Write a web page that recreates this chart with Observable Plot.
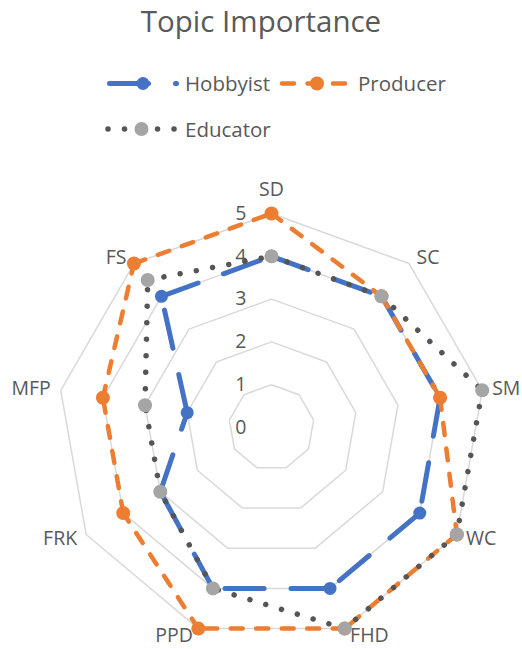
<!DOCTYPE html>
<html>
<head>
<meta charset="utf-8">
<script src="https://cdn.jsdelivr.net/npm/d3@7"></script>
<script src="https://cdn.jsdelivr.net/npm/@observablehq/plot@0.6"></script>
<style>
  body { margin: 0; background: #fff; font-family: "Open Sans", sans-serif; color: #595959; }
  #page { position: relative; width: 522px; height: 649px; overflow: hidden; }
  #header { position: absolute; left: 0; top: 0; }
  #chart { position: absolute; left: 0; top: 150px; }
</style>
</head>
<body>
<div id="page">
  <svg id="header" width="522" height="150"></svg>
  <div id="chart"></div>
</div>
<script>
// Survey topics around the radar, clockwise from the top
const topics = ["SD", "SC", "SM", "WC", "FHD", "PPD", "FRK", "MFP", "FS"];

// Importance scores (0–5) per respondent group
const hobbyist = [4, 4, 4, 4, 4, 4, 3, 2, 4];
const producer = [5, 4, 4, 5, 5, 5, 4, 4, 5];
const educator = [4, 4, 5, 5, 5, 4, 3, 3, 4.5];

// Radial tick values
const ticks = [0, 1, 2, 3, 4, 5];

const seriesNames = ["Hobbyist", "Producer", "Educator"];
const seriesValues = [hobbyist, producer, educator];

const FONT = "'Open Sans', sans-serif";
const TEXT = "#595959";

// Line and marker styling per series
const styles = {
  Hobbyist: { stroke: "#4472C4", marker: "#4472C4", width: 5, dash: "39,27", r: 6.5 },
  Producer: { stroke: "#ED7D31", marker: "#ED7D31", width: 4.5, dash: "12,13.5", r: 7 },
  Educator: { stroke: "#555555", marker: "#A5A5A5", width: 5.5, dash: "0.01,16.5", r: 7 }
};

const n = topics.length;
const angle = (i) => (2 * Math.PI * i) / n;
const px = (v, i) => v * Math.sin(angle(i));
const py = (v, i) => v * Math.cos(angle(i));

// Pixel geometry of the plot frame
const W = 522, H = 499, unit = 42.8, cx = 271, cy = 277;
const maxTick = d3.max(ticks);

// Grid rings at each tick (except the centre)
const rings = [];
for (const t of ticks.filter((t) => t > 0)) {
  for (let i = 0; i <= n; i++) rings.push({ t, x: px(t, i % n), y: py(t, i % n) });
}

// One segment per adjacent pair of topics, so each edge starts its dash pattern afresh
function segments(values) {
  return values.map((v, i) => {
    const j = (i + 1) % n;
    return { x1: px(v, i), y1: py(v, i), x2: px(values[j], j), y2: py(values[j], j) };
  });
}
function vertices(values) {
  return values.map((v, i) => ({ x: px(v, i), y: py(v, i) }));
}

// Category labels sit beside the outer ring's vertices
const labelData = topics.map((name, i) => {
  const a = angle(i), s = Math.sin(a), c = Math.cos(a);
  const side = Math.abs(s) < 0.1 ? "middle" : s > 0 ? "start" : "end";
  const gap = 3 + 7 * Math.abs(s);
  if (side === "middle") {
    return { name, side, x: maxTick * s, y: maxTick * c + (c > 0 ? 24 : -24) / unit };
  }
  return { name, side, x: maxTick * s + Math.sign(s) * gap / unit, y: maxTick * c + 8 * c / unit };
});

const marks = [
  Plot.line(rings, { x: "x", y: "y", z: "t", stroke: "#D9D9D9", strokeWidth: 1.5 }),
  Plot.text(ticks, { x: () => 0, y: (d) => d, dx: -25, text: (d) => String(d), textAnchor: "end", fill: TEXT, fontSize: 19.5 })
];
for (const side of ["start", "middle", "end"]) {
  marks.push(Plot.text(labelData.filter((d) => d.side === side), {
    x: "x", y: "y", text: "name", textAnchor: side, fill: TEXT, fontSize: 19.5
  }));
}

seriesNames.forEach((name, k) => {
  const s = styles[name];
  marks.push(
    Plot.link(segments(seriesValues[k]), {
      x1: "x1", y1: "y1", x2: "x2", y2: "y2",
      stroke: s.stroke, strokeWidth: s.width, strokeDasharray: s.dash, strokeLinecap: "round"
    }),
    Plot.dot(vertices(seriesValues[k]), { x: "x", y: "y", r: s.r, fill: s.marker, stroke: "none" })
  );
});

const chart = Plot.plot({
  width: W,
  height: H,
  margin: 0,
  x: { domain: [-cx / unit, (W - cx) / unit], range: [0, W], axis: null },
  y: { domain: [-(H - cy) / unit, cy / unit], range: [H, 0], axis: null },
  style: { fontFamily: FONT, background: "#fff" },
  marks
});
document.getElementById("chart").appendChild(chart);

// Title and legend
const header = d3.select("#header");
header.append("text")
  .attr("x", 261).attr("y", 31.5).attr("text-anchor", "middle")
  .attr("font-family", FONT).attr("font-size", 29.5).attr("fill", TEXT)
  .text("Topic Importance");

// Each legend key is a short stretch of the series' line with its marker in the middle
const items = [
  { name: "Hobbyist", x1: 109.5, x2: 176.5, mx: 143, y: 83.5, tx: 185, ty: 91 },
  { name: "Producer", x1: 282, x2: 352, mx: 317, y: 83.5, tx: 358, ty: 91 },
  { name: "Educator", x1: 108, x2: 175, mx: 141.5, y: 129, tx: 185, ty: 136.5 }
];
for (const it of items) {
  const s = styles[it.name];
  header.append("line")
    .attr("x1", it.x1).attr("x2", it.x2).attr("y1", it.y).attr("y2", it.y)
    .attr("stroke", s.stroke).attr("stroke-width", s.width)
    .attr("stroke-dasharray", s.dash).attr("stroke-linecap", "round");
  header.append("circle")
    .attr("cx", it.mx).attr("cy", it.y).attr("r", s.r).attr("fill", s.marker);
  header.append("text")
    .attr("x", it.tx).attr("y", it.ty)
    .attr("fill", TEXT).attr("font-size", 20.5).attr("font-family", FONT)
    .text(it.name);
}
</script>
</body>
</html>
